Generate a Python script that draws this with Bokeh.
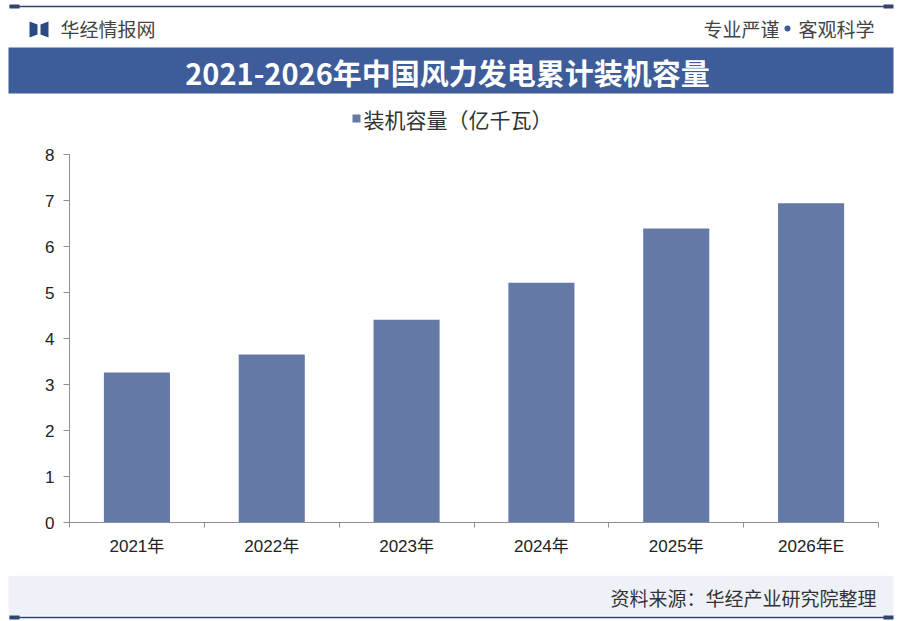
from bokeh.plotting import figure
from bokeh.layouts import column
from bokeh.models import Range1d, FixedTicker, CustomJSTickFormatter
from bokeh.core.properties import value
from bokeh.embed import file_html
from bokeh.resources import INLINE

# ---------------- data ----------------
categories = ["2021年", "2022年", "2023年", "2024年", "2025年", "2026年E"]
capacity = [3.26, 3.65, 4.41, 5.21, 6.39, 6.94]
y_ticks = [0, 1, 2, 3, 4, 5, 6, 7, 8]
title_text = "2021-2026年中国风力发电累计装机容量"
legend_text = "装机容量（亿千瓦）"
brand_text = "华经情报网"
slogan_left = "专业严谨"
slogan_right = "客观科学"
source_text = "资料来源：华经产业研究院整理"

BAR = "#6479a6"
BAND = "#3d5c99"
DARK = "#2f4470"
CJK = "Noto Sans CJK SC"
NUM = "Liberation Sans, Noto Sans CJK SC"
W = 900


def blank(height, y0, y1):
    f = figure(width=W, height=height, x_range=Range1d(0, W), y_range=Range1d(y1, y0),
               output_backend="svg", toolbar_location=None, min_border=0, frame_align=False)
    f.axis.visible = False
    f.grid.visible = False
    f.outline_line_color = None
    f.background_fill_color = "white"
    f.border_fill_color = "white"
    return f


# ---------------- header ----------------
h = blank(140, 0, 140)
h.segment(x0=[9], y0=[6], x1=[892], y1=[6], line_color=DARK, line_width=1.5)
h.rect(x=[14, 888], y=[6, 6], width=10, height=4, fill_color=DARK, line_color=None)
# logo
h.patch(x=[29, 37, 37, 29], y=[21, 24, 34, 37], fill_color="#2b4a85", line_color=None)
h.patch(x=[40, 48, 48, 40], y=[24, 21, 37, 34], fill_color="#2b4a85", line_color=None)
h.text(x=[60], y=[28], text=[brand_text], text_font=value(CJK), text_font_size=value("19px"),
       text_color="#444444", text_align="left", text_baseline="middle")
h.text(x=[874], y=[28], text=[slogan_right], text_font=value(CJK), text_font_size=value("19px"),
       text_color="#444444", text_align="right", text_baseline="middle")
h.scatter(x=[787], y=[28], size=6, fill_color="#3d5c99", line_color=None)
h.text(x=[779], y=[28], text=[slogan_left], text_font=value(CJK), text_font_size=value("19px"),
       text_color="#444444", text_align="right", text_baseline="middle")
h.quad(left=[8], right=[893], top=[47], bottom=[93], fill_color=BAND, line_color=None)
h.text(x=[447], y=[71], text=[title_text], text_font=value(CJK), text_font_size=value("29px"),
       text_font_style="bold", text_color="white", text_align="center", text_baseline="middle")
h.rect(x=[356], y=[118], width=8, height=8, fill_color=BAR, line_color=None)
h.text(x=[363], y=[118], text=[legend_text], text_font=value(CJK), text_font_size=value("21px"),
       text_color="#333333", text_align="left", text_baseline="middle")

# ---------------- chart ----------------
n = len(categories)
xs = [i + 0.5 for i in range(n)]
p = figure(width=W, height=435, x_range=Range1d(0, n), y_range=Range1d(0, 8),
           output_backend="svg", toolbar_location=None, frame_align=False,
           min_border_left=69, min_border_right=22, min_border_top=14, min_border_bottom=53)
p.outline_line_color = None
p.grid.visible = False
p.background_fill_color = "white"
p.border_fill_color = "white"

p.vbar(x=xs, top=capacity, width=0.49, fill_color=BAR, line_color=None)

p.yaxis.ticker = FixedTicker(ticks=y_ticks)
p.yaxis.axis_line_color = "#8f8f8f"
p.yaxis.major_tick_line_color = "#8f8f8f"
p.yaxis.major_tick_out = 6
p.yaxis.major_tick_in = 0
p.yaxis.minor_tick_line_color = None
p.yaxis.major_label_standoff = 9
p.yaxis.major_label_text_font = NUM
p.yaxis.major_label_text_font_size = "17px"
p.yaxis.major_label_text_color = "#222222"

p.xaxis.ticker = FixedTicker(ticks=xs, minor_ticks=list(range(n + 1)))
p.xaxis.formatter = CustomJSTickFormatter(args=dict(cats=categories),
                                          code="const i = Math.floor(tick); return (i >= 0 && i < cats.length) ? cats[i] : '';")
p.xaxis.axis_line_color = "#8f8f8f"
p.xaxis.major_tick_out = 0
p.xaxis.major_tick_in = 0
p.xaxis.minor_tick_out = 5
p.xaxis.minor_tick_in = 0
p.xaxis.minor_tick_line_color = "#8f8f8f"
p.xaxis.major_label_standoff = 9
p.xaxis.major_label_text_font = NUM
p.xaxis.major_label_text_font_size = "17px"
p.xaxis.major_label_text_color = "#222222"

# ---------------- footer ----------------
ft = blank(46, 575, 621)
ft.quad(left=[8], right=[893], top=[575], bottom=[615], fill_color="#eef2f8", line_color=None)
ft.segment(x0=[9], y0=[617], x1=[892], y1=[617], line_color=DARK, line_width=1.5)
ft.rect(x=[14, 888], y=[617, 617], width=10, height=4, fill_color=DARK, line_color=None)
ft.text(x=[876], y=[597], text=[source_text], text_font=value(CJK), text_font_size=value("19px"),
        text_color="#333333", text_align="right", text_baseline="middle")

layout = column(h, p, ft, spacing=0)
open("out.html", "w").write(file_html(layout, INLINE))
